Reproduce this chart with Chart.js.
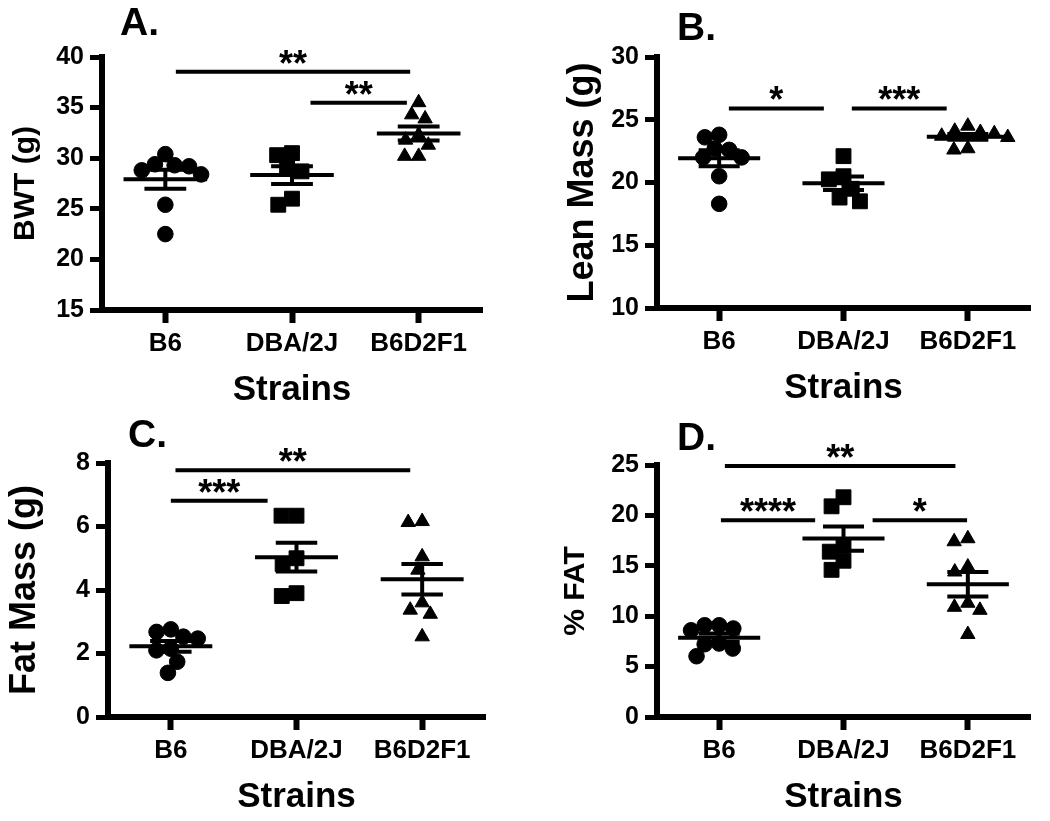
<!DOCTYPE html>
<html><head><meta charset="utf-8">
<script src="https://cdn.jsdelivr.net/npm/chart.js@4.4.1/dist/chart.umd.min.js"></script>
<style>
html,body{margin:0;padding:0;background:#fff;width:1050px;height:821px;overflow:hidden}
canvas{position:absolute}
</style></head>
<body>
<canvas id="cA" width="525" height="410" style="left:0;top:0"></canvas>
<canvas id="cB" width="525" height="410" style="left:525px;top:0"></canvas>
<canvas id="cC" width="525" height="411" style="left:0;top:410px"></canvas>
<canvas id="cD" width="525" height="411" style="left:525px;top:410px"></canvas>
<script>
// ---------- data ----------
const categories = ['B6', 'DBA/2J', 'B6D2F1'];

// A. body weight (g)
const bwtB6  = [30.4, 29.4, 29.3, 29.2, 28.8, 28.4, 25.4, 22.5];
const bwtDBA = [30.5, 30.3, 29.1, 28.7, 26.0, 25.4];
const bwtF1  = [35.5, 34.3, 33.9, 32.3, 31.8, 31.3, 30.2, 30.2];
const bwtTicks = [15, 20, 25, 30, 35, 40];
const bwtSigFrom  = [0.083, 1.146];
const bwtSigTo    = [1.933, 1.907];
const bwtSigLevel = [38.55, 35.48];
const bwtSigText  = ['**', '**'];

// B. lean mass (g)
const leanB6  = [23.8, 23.6, 22.7, 22.6, 22.0, 22.0, 20.5, 18.3];
const leanDBA = [22.1, 20.5, 20.25, 19.5, 18.8, 18.5];
const leanF1  = [24.5, 24.1, 24.0, 23.9, 23.7, 23.6, 22.7, 22.6];
const leanTicks = [10, 15, 20, 25, 30];
const leanSigFrom  = [0.078, 1.067];
const leanSigTo    = [0.842, 1.83];
const leanSigLevel = [25.9, 25.9];
const leanSigText  = ['*', '***'];

// C. fat mass (g)
const fatB6  = [2.76, 2.68, 2.53, 2.47, 2.15, 2.10, 1.74, 1.39];
const fatDBA = [6.34, 6.34, 5.00, 4.82, 3.90, 3.81];
const fatF1  = [6.16, 6.13, 5.05, 4.63, 3.60, 3.37, 3.24, 2.53];
const fatTicks = [0, 2, 4, 6, 8];
const fatSigFrom  = [0.037, 0.0];
const fatSigTo    = [1.905, 0.77];
const fatSigLevel = [7.77, 6.81];
const fatSigText  = ['**', '***'];

// D. % fat
const pctB6  = [9.1, 9.1, 8.78, 8.6, 7.29, 7.22, 6.79, 6.03];
const pctDBA = [21.8, 20.9, 17.0, 16.4, 15.5, 14.6];
const pctF1  = [17.7, 17.4, 14.9, 14.4, 11.3, 10.9, 10.6, 8.2];
const pctTicks = [0, 5, 10, 15, 20, 25];
const pctSigFrom  = [0.046, 0.014, 1.234];
const pctSigTo    = [1.9, 0.772, 1.994];
const pctSigLevel = [24.9, 19.53, 19.53];
const pctSigText  = ['**', '****', '*'];

// ---------- styling ----------
const FONT = '"Liberation Sans", Arial, Helvetica, sans-serif';
Chart.defaults.font.family = FONT;
Chart.defaults.color = '#000';
const MEAN_HALF = 0.33, CAP_HALF = 0.165;
const STYLES = ['circle', 'rect', 'triangle'];
const RADII = [7.8, 10.5, 8.3];
const SWARM_D = [14.5, 15, 14];

function mean(a) { return a.reduce((s, v) => s + v, 0) / a.length; }
function sem(a) {
  const m = mean(a);
  const ss = a.reduce((s, v) => s + (v - m) * (v - m), 0);
  return Math.sqrt(ss / (a.length - 1)) / Math.sqrt(a.length);
}

function swarm(yPix, D) {
  const order = yPix.map((v, i) => i).sort((a, b) => yPix[a] - yPix[b]);
  const placed = [], xs = new Array(yPix.length);
  for (const i of order) {
    const y = yPix[i];
    const cands = [0], intervals = [];
    for (const p of placed) {
      const dy = Math.abs(p.y - y);
      if (dy < D) {
        const dx = Math.sqrt(D * D - dy * dy);
        intervals.push([p.x - dx, p.x + dx]);
        cands.push(p.x - dx, p.x + dx);
      }
    }
    let best = null;
    for (const c of cands) {
      const ok = intervals.every(([a, b]) => c <= a + 1e-6 || c >= b - 1e-6);
      if (ok && (best === null || Math.abs(c) < Math.abs(best) - 1e-6)) best = c;
    }
    xs[i] = best;
    placed.push({ x: best, y });
  }
  return xs;
}

const annot = {
  id: 'annot',
  afterDatasetsDraw(chart, args, o) {
    const ctx = chart.ctx, xs = chart.scales.x, ys = chart.scales.y;
    ctx.save();
    ctx.fillStyle = '#000';
    ctx.font = 'bold ' + o.starSize + 'px ' + FONT;
    ctx.textAlign = 'center';
    ctx.textBaseline = 'alphabetic';
    o.sigText.forEach((t, i) => {
      const cx = (xs.getPixelForValue(o.sigFrom[i]) + xs.getPixelForValue(o.sigTo[i])) / 2;
      const cy = ys.getPixelForValue(o.sigLevel[i]);
      ctx.fillText(t, cx, cy + o.starDy);
    });
    ctx.font = 'bold 39px ' + FONT;
    ctx.textAlign = 'left';
    ctx.fillText(o.letter, o.letterX, o.letterY);
    ctx.restore();
  }
};

function makePanel(p) {
  const groups = p.groups;
  const pointSets = groups.map((vals, gi) => ({
    type: 'scatter',
    data: vals.map(v => ({ x: gi, y: v })),
    pointStyle: STYLES[gi],
    pointRadius: RADII[gi],
    pointHoverRadius: RADII[gi],
    backgroundColor: '#000',
    borderColor: '#000',
    borderWidth: 1,
    clip: false
  }));
  const summary = [];
  groups.forEach((vals, gi) => {
    const m = mean(vals), s = sem(vals);
    summary.push({ x: gi - MEAN_HALF, y: m }, { x: gi + MEAN_HALF, y: m }, { x: null, y: null });
    summary.push({ x: gi - CAP_HALF, y: m + s }, { x: gi + CAP_HALF, y: m + s }, { x: null, y: null });
    summary.push({ x: gi - CAP_HALF, y: m - s }, { x: gi + CAP_HALF, y: m - s }, { x: null, y: null });
    summary.push({ x: gi, y: m - s }, { x: gi, y: m + s }, { x: null, y: null });
  });
  const sigLines = [];
  p.sigText.forEach((t, i) => {
    sigLines.push({ x: p.sigFrom[i], y: p.sigLevel[i] }, { x: p.sigTo[i], y: p.sigLevel[i] }, { x: null, y: null });
  });
  const lineSet = (data) => ({
    type: 'scatter', data, showLine: true, spanGaps: false,
    borderColor: '#000', borderWidth: 4, pointRadius: 0, pointHoverRadius: 0,
    fill: false, clip: false
  });
  const ticks = p.ticks;
  const chart = new Chart(document.getElementById(p.id), {
    type: 'scatter',
    data: { datasets: [...pointSets, lineSet(summary), lineSet(sigLines)] },
    options: {
      responsive: false, animation: false, devicePixelRatio: 1,
      events: [],
      layout: { padding: { left: 0, top: p.top, right: p.right, bottom: 0 } },
      plugins: {
        legend: { display: false }, tooltip: { enabled: false },
        annot: {
          sigFrom: p.sigFrom, sigTo: p.sigTo, sigLevel: p.sigLevel, sigText: p.sigText,
          starSize: 36, starDy: 4, letter: p.letter, letterX: p.letterX, letterY: p.letterY
        }
      },
      scales: {
        x: {
          type: 'linear', min: -0.5, max: 2.5,
          afterBuildTicks: a => { a.ticks = categories.map((c, i) => ({ value: i })); },
          afterFit: s => { s.height = p.xH; },
          ticks: {
            callback: v => categories[v], autoSkip: false, maxRotation: 0, minRotation: 0,
            font: { size: 26, weight: 'bold' }, color: '#000', padding: 5
          },
          grid: { display: true, drawOnChartArea: false, drawTicks: true, tickLength: 13, tickWidth: 6, tickColor: '#000' },
          border: { display: true, width: 6, color: '#000' },
          title: {
            display: true, text: 'Strains', color: '#000',
            font: { size: 35, weight: 'bold', lineHeight: 1 },
            padding: { top: 0, bottom: p.xTitlePad }
          }
        },
        y: {
          type: 'linear', min: ticks[0], max: ticks[ticks.length - 1],
          afterBuildTicks: a => { a.ticks = ticks.map(v => ({ value: v })); },
          afterFit: s => { s.width = p.yW; },
          ticks: { font: { size: 25, weight: 'bold' }, color: '#000', padding: 6 },
          grid: { display: true, drawOnChartArea: false, drawTicks: true, tickLength: 12, tickWidth: 5, tickColor: '#000' },
          border: { display: true, width: 6, color: '#000' },
          title: {
            display: true, text: p.yTitle, color: '#000',
            font: { size: p.yTitleSize, weight: 'bold', lineHeight: 1 },
            padding: { top: p.yTitlePad, bottom: 0 }
          }
        }
      }
    },
    plugins: [annot]
  });
  // arrange points as a scatter swarm, using the chart's own scales
  const xs = chart.scales.x, ys = chart.scales.y;
  const ppu = xs.getPixelForValue(1) - xs.getPixelForValue(0);
  groups.forEach((vals, gi) => {
    const off = swarm(vals.map(v => ys.getPixelForValue(v)), SWARM_D[gi]);
    chart.data.datasets[gi].data = vals.map((v, k) => ({ x: gi + off[k] / ppu, y: v }));
  });
  chart.update('none');
}

makePanel({ id: 'cA', groups: [bwtB6, bwtDBA, bwtF1], ticks: bwtTicks,
  sigFrom: bwtSigFrom, sigTo: bwtSigTo, sigLevel: bwtSigLevel, sigText: bwtSigText,
  yTitle: 'BWT (g)', yTitleSize: 30, yTitlePad: 11, yW: 102, top: 57, right: 43, xH: 100, xTitlePad: 2,
  letter: 'A.', letterX: 120, letterY: 35 });
makePanel({ id: 'cB', groups: [leanB6, leanDBA, leanF1], ticks: leanTicks,
  sigFrom: leanSigFrom, sigTo: leanSigTo, sigLevel: leanSigLevel, sigText: leanSigText,
  yTitle: 'Lean Mass (g)', yTitleSize: 36, yTitlePad: 40, yW: 132, top: 57, right: 20, xH: 102, xTitlePad: 4,
  letter: 'B.', letterX: 152, letterY: 40 });
makePanel({ id: 'cC', groups: [fatB6, fatDBA, fatF1], ticks: fatTicks,
  sigFrom: fatSigFrom, sigTo: fatSigTo, sigLevel: fatSigLevel, sigText: fatSigText,
  yTitle: 'Fat Mass (g)', yTitleSize: 36, yTitlePad: 7, yW: 108, top: 53, right: 40, xH: 104, xTitlePad: 6,
  letter: 'C.', letterX: 128, letterY: 37 });
makePanel({ id: 'cD', groups: [pctB6, pctDBA, pctF1], ticks: pctTicks,
  sigFrom: pctSigFrom, sigTo: pctSigTo, sigLevel: pctSigLevel, sigText: pctSigText,
  yTitle: '% FAT', yTitleSize: 30, yTitlePad: 36, yW: 132, top: 55, right: 20, xH: 104, xTitlePad: 6,
  letter: 'D.', letterX: 152, letterY: 40 });
</script>
</body></html>
